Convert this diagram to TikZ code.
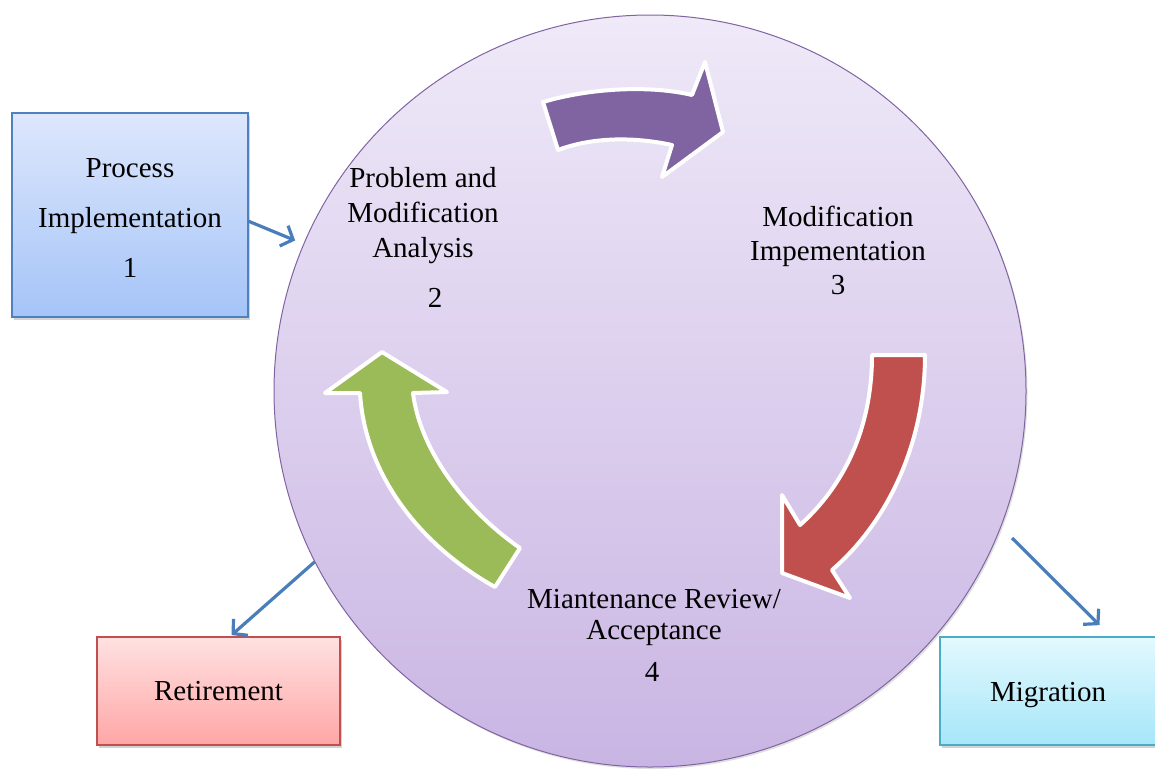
\documentclass[tikz,border=0pt]{standalone}
\usepackage{fontspec}
\setmainfont{Liberation Serif}
\usetikzlibrary{arrows.meta,shadows}
\definecolor{circtop}{HTML}{EFE9F8}
\definecolor{circbot}{HTML}{C9B5E3}
\definecolor{circline}{HTML}{8064A2}
\definecolor{ppl}{HTML}{8064A2}
\definecolor{rd}{HTML}{C0504D}
\definecolor{grn}{HTML}{9BBB59}
\definecolor{conncol}{HTML}{4A7EBB}
\definecolor{bluetop}{HTML}{DDE7FC}
\definecolor{bluebot}{HTML}{A5C4F8}
\definecolor{blueline}{HTML}{4F81BD}
\definecolor{redtop}{HTML}{FFE1E1}
\definecolor{redbot}{HTML}{FFA6A6}
\definecolor{redline}{HTML}{C0504D}
\definecolor{cyantop}{HTML}{E3F9FE}
\definecolor{cyanbot}{HTML}{A6E6F9}
\definecolor{cyanline}{HTML}{4BACC6}
\tikzset{
  txt/.style={font=\fontsize{29}{35}\selectfont, align=center, inner sep=0pt},
  box/.style={draw, line width=1.2pt, inner sep=0pt, align=center,
     font=\fontsize{29}{50}\selectfont,
     drop shadow={opacity=0.35, shadow xshift=2pt, shadow yshift=-3pt}},
  conn/.style={draw=conncol, line width=3.2pt, -{Straight Barb[length=10pt,width=22pt,line width=3.2pt]}},
  cyc/.style={draw=white, line width=4pt, line join=round}
}
\begin{document}
\begin{tikzpicture}[x=1pt,y=-1pt]
\useasboundingbox (0,0) rectangle (1155,772);
% main circle
\node[circle, minimum size=752pt, inner sep=0pt, draw=circline, line width=1pt,
      top color=circtop, bottom color=circbot,
      drop shadow={opacity=0.25, shadow xshift=1.5pt, shadow yshift=-2pt}] (circ) at (650,391) {};
% cycle arrows
\path[cyc, fill=ppl] (543,102) .. controls (590,88) and (650,85) .. (692,95) -- (705,62) -- (723,132) -- (662,177) -- (672,145) .. controls (630,136) and (590,138) .. (558,150) -- cycle;
\path[cyc, fill=rd] (872,355) -- (925,355) .. controls (925,440) and (890,520) .. (832,570) -- (850,598) -- (782,573) -- (782,495) -- (800,525) .. controls (850,480) and (872,420) .. (872,355) -- cycle;
\path[cyc, fill=grn] (382,352) -- (447,392) -- (413,393) .. controls (420,450) and (465,510) .. (520,548) -- (495,587) .. controls (420,545) and (365,475) .. (360,393) -- (325,393) -- cycle;
% texts in circle
\node[txt] (t2) at (423,216) {Problem and\\Modification\\Analysis};
\node[txt] (n2) at (435,298) {2};
\node[txt, font=\fontsize{29}{34}\selectfont] (t3) at (838,250) {Modification\\Impementation\\3};
\node[txt, font=\fontsize{29}{31}\selectfont] (t4) at (654,617) {Miantenance Review/\\Acceptance};
\node[txt] (n4) at (652,672) {4};
% boxes
\node[box, draw=blueline, top color=bluetop, bottom color=bluebot,
      minimum width=236pt, minimum height=204pt] (pi) at (130,215) {\raisebox{-3pt}[\height][\depth]{\parbox{236pt}{\centering Process\\Implementation\\1}}};
\node[box, draw=redline, top color=redtop, bottom color=redbot,
      minimum width=243pt, minimum height=108pt] (ret) at (218.5,691) {Retirement};
\node[box, draw=cyanline, top color=cyantop, bottom color=cyanbot,
      minimum width=216pt, minimum height=108pt] (mig) at (1048,691) {\raisebox{-4pt}[\height][\depth]{Migration}};
% connectors
\coordinate (m0) at (1012,538);
\draw[conn, shorten >=9pt] (pi.-3.4) -- (circ.157.2);
\draw[conn, shorten >=2pt] (circ.207.4) -- (ret.78);
\draw[conn, shorten >=16pt] (m0) -- (mig.41.7);
\end{tikzpicture}
\end{document}
